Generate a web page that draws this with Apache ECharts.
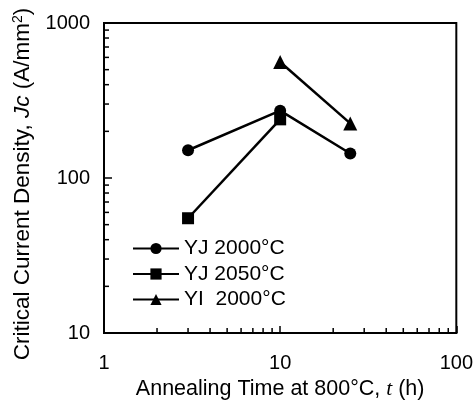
<!DOCTYPE html>
<html>
<head>
<meta charset="utf-8">
<script src="https://cdn.jsdelivr.net/npm/echarts@6/dist/echarts.min.js"></script>
<style>
  html, body { margin: 0; padding: 0; background: #fff; }
  #chart { width: 476px; height: 406px; }
</style>
</head>
<body>
<div id="chart"></div>
<script>
// Annealing time (h) and critical current density Jc (A/mm^2)
const timesYJ2000 = [3, 10, 25];
const jcYJ2000 = [151, 272, 144];
const timesYJ2050 = [3, 10];
const jcYJ2050 = [55, 239];
const timesYI2000 = [10, 25];
const jcYI2000 = [560, 225];

const seriesNames = ['YJ 2000\u00b0C', 'YJ 2050\u00b0C', 'YI  2000\u00b0C'];

// Minor tick values for the log axes
const xMinorTicks = [2, 3, 4, 5, 6, 7, 8, 9, 20, 30, 40, 50, 60, 70, 80, 90];
const yMinorTicks = [20, 30, 40, 50, 60, 70, 80, 90, 200, 300, 400, 500, 600, 700, 800, 900];

const pairs = (xs, ys) => xs.map((x, i) => [x, ys[i]]);

const font = '"Liberation Sans", Arial, sans-serif';
const lineStyle = { color: '#000', width: 2.5 };

function lineSeries(name, data, symbol, size) {
  return {
    name: name,
    type: 'line',
    data: data,
    symbol: symbol,
    symbolSize: size,
    lineStyle: lineStyle,
    itemStyle: { color: '#000' },
    z: 5
  };
}

function minorTickSeries(values, horizontal) {
  return {
    type: 'custom',
    silent: true,
    clip: false,
    data: values.map(v => horizontal ? [v, 10] : [1, v]),
    renderItem: function (params, api) {
      const p = api.coord([api.value(0), api.value(1)]);
      const shape = horizontal
        ? { x1: p[0], y1: p[1], x2: p[0], y2: p[1] - 5 }
        : { x1: p[0], y1: p[1], x2: p[0] + 5, y2: p[1] };
      return { type: 'line', shape: shape, style: { stroke: '#000', lineWidth: 1.5 } };
    },
    z: 4
  };
}

const chart = echarts.init(document.getElementById('chart'), null, { renderer: 'canvas' });

chart.setOption({
  animation: false,
  backgroundColor: '#fff',
  grid: {
    left: 104, right: 18, top: 23, bottom: 73,
    show: true, borderColor: '#000', borderWidth: 2, backgroundColor: 'transparent'
  },
  xAxis: {
    type: 'log',
    logBase: 10,
    min: 1,
    max: 100,
    name: 'Annealing Time at 800\u00b0C, {i|t} (h)',
    nameLocation: 'middle',
    nameGap: 45,
    nameTextStyle: {
      color: '#000', fontSize: 21.5, fontFamily: font,
      rich: { i: { fontStyle: 'italic', fontSize: 21.5, fontFamily: '"Liberation Serif", serif', color: '#000' } }
    },
    axisLine: { show: true, lineStyle: { color: '#000', width: 2 } },
    axisTick: { show: true, inside: true, length: 7, lineStyle: { color: '#000', width: 1.5 } },
    minorTick: { show: false },
    splitLine: { show: false },
    axisLabel: { color: '#000', fontSize: 20, fontFamily: font, margin: 20, formatter: v => String(v) }
  },
  yAxis: {
    type: 'log',
    logBase: 10,
    min: 10,
    max: 1000,
    name: 'Critical Current Density, {i|Jc} (A/mm{s|2})',
    nameLocation: 'middle',
    nameGap: 68,
    nameTextStyle: {
      color: '#000', fontSize: 22.5, fontFamily: font, padding: [0, 12, 0, 0],
      rich: {
        i: { fontStyle: 'italic', fontSize: 22.5, fontFamily: font, color: '#000' },
        s: { fontSize: 14, fontFamily: font, color: '#000', verticalAlign: 'top', padding: [0, 0, 9, 0] }
      }
    },
    axisLine: { show: true, lineStyle: { color: '#000', width: 2 } },
    axisTick: { show: true, inside: true, length: 8, lineStyle: { color: '#000', width: 1.5 } },
    minorTick: { show: false },
    splitLine: { show: false },
    axisLabel: { color: '#000', fontSize: 20, fontFamily: font, margin: 14, formatter: v => String(v) }
  },
  legend: {
    orient: 'vertical',
    left: 132,
    top: 238,
    padding: 0,
    itemWidth: 46,
    itemHeight: 14,
    itemGap: 4.5,
    data: seriesNames,
    textStyle: { color: '#000', fontSize: 21, lineHeight: 21, fontFamily: font },
    selectedMode: false
  },
  series: [
    lineSeries(seriesNames[0], pairs(timesYJ2000, jcYJ2000), 'circle', 12),
    lineSeries(seriesNames[1], pairs(timesYJ2050, jcYJ2050), 'rect', 12),
    lineSeries(seriesNames[2], pairs(timesYI2000, jcYI2000), 'triangle', 14),
    minorTickSeries(xMinorTicks, true),
    minorTickSeries(yMinorTicks, false)
  ]
});
</script>
</body>
</html>
